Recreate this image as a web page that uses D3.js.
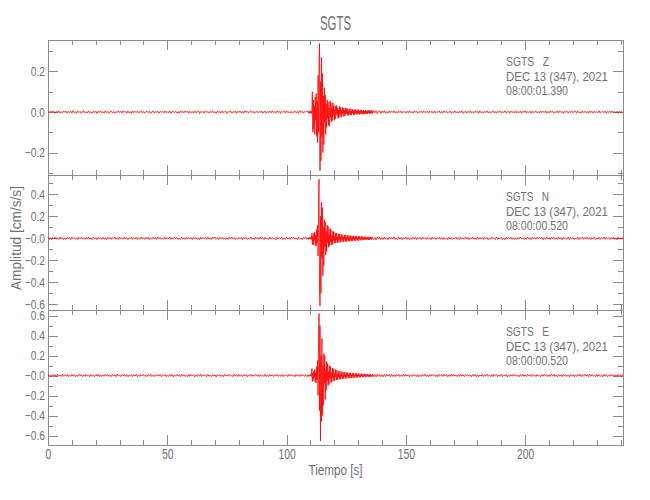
<!DOCTYPE html>
<html><head><meta charset="utf-8">
<script src="https://cdn.jsdelivr.net/npm/d3@7"></script>
<style>
body{margin:0;background:#fff}
text{font-family:"Liberation Sans",Arial,sans-serif;fill:#707070}
.axis path,.axis line{stroke:#8c8c8c;shape-rendering:crispEdges}
</style>
</head><body><svg id="c" width="650" height="500"></svg>
<script>
// ---------- DATA ----------
const title = "SGTS";
const station = "SGTS";
const components = ["Z", "N", "E"];
const dateLabel = "DEC 13 (347), 2021";
const startTimes = ["08:00:01.390", "08:00:00.520", "08:00:00.520"];
const xLabel = "Tiempo [s]";
const yLabel = "Amplitud [cm/s/s]";
const xDomain = [0, 241];
const xTickValues = [0, 50, 100, 150, 200];
const xTickLabels = ["0", "50", "100", "150", "200"];
const yDomainZ = [-0.31, 0.355];
const yDomainN = [-0.65, 0.575];
const yDomainE = [-0.695, 0.655];
const yTickValuesZ = [0.2, 0, -0.2];
const yTickLabelsZ = ["0.2", "0.0", "\u22120.2"];
const yTickValuesN = [0.4, 0.2, 0, -0.2, -0.4, -0.6];
const yTickLabelsN = ["0.4", "0.2", "\u22120.0", "\u22120.2", "\u22120.4", "\u22120.6"];
const yTickValuesE = [0.6, 0.4, 0.2, 0, -0.2, -0.4, -0.6];
const yTickLabelsE = ["0.6", "0.4", "0.2", "\u22120.0", "\u22120.2", "\u22120.4", "\u22120.6"];

// sample grids (s): pre-event from 0 every 0.5 s, event from 109 every 0.2 s, coda from 136 every 0.5 s
const preStart = 0, preStep = 0.5;
const eventStart = 109, eventStep = 0.2;
const postStart = 136, postStep = 0.5;

// Z component (cm/s/s)
const zPre = [
.003,-.004,.006,-.002,.005,.001,-.006,.004,-.003,.007,-.005,.002,-.004,.006,-.001,.005,-.006,.003,-.002,.004,
-.005,.007,-.003,.001,-.006,.005,-.002,.004,-.007,.003,.006,-.004,.002,-.005,.006,-.003,.001,-.006,.004,-.002,
.005,-.007,.003,-.001,.006,-.004,.002,-.005,.007,-.003,.004,-.006,.001,.005,-.004,.003,-.006,.002,-.003,.006,
-.002,.004,-.005,.007,-.001,.003,-.006,.005,-.004,.002,-.007,.006,-.003,.004,-.002,.005,-.005,.001,.007,-.004,
.003,-.006,.002,.005,-.003,.004,-.007,.001,.006,-.005,.003,-.002,.005,-.006,.004,-.001,.003,-.005,.006,-.003,
.002,-.004,.007,-.006,.001,.004,-.003,.005,-.005,.002,-.006,.006,-.002,.003,-.004,.007,-.001,.005,-.006,.004,
-.003,.002,-.005,.006,-.004,.001,.005,-.007,.003,-.002,.004,-.006,.006,-.001,.002,-.005,.004,-.003,.007,-.004,
.001,-.006,.005,-.002,.003,-.005,.006,-.004,.002,.004,-.007,.003,-.001,.006,-.005,.002,-.003,.005,-.006,.004,
-.002,.005,-.004,.003,-.006,.007,-.001,.004,-.005,.002,.006,-.003,.004,-.006,.001,.005,-.004,.003,-.002,.006,
-.005,.001,.004,-.006,.003,-.002,.005,-.004,.007,-.003,.002,-.005,.006,-.001,.003,-.007,.004,-.002,.005,-.004,
.006,-.003,.002,-.005,.004,-.006,.001,.005,-.004,.003,-.006,.007,-.002,.004,-.005,.003,-.001,.005];
const zEvent = [
.004,-.006,.003,-.005,.006,-.004,.005,-.007,.008,.100,
-.098,.06,-.085,.03,-.11,.075,-.04,.09,-.12,.05,
-.15,.18,-.1,.22,.338,-.289,.15,-.24,.27,-.12,
.19,-.2,.08,-.16,.12,-.05,.085,-.11,.04,-.075,
.06,-.03,.05,-.065,.02,-.07,.055,-.025,.045,-.048,
.02,-.042,.045,-.015,.035,-.04,.012,-.035,.03,-.01,
.033,-.018,.02,-.032,.01,-.027,.028,-.012,.024,-.026,
.01,-.021,.023,-.008,.019,-.022,.009,-.018,.021,-.01,
.018,-.007,.017,-.016,.006,-.017,.015,-.008,.017,-.014,
.006,-.015,.014,-.005,.013,-.014,.007,-.013,.012,-.006,
.013,-.012,.005,-.011,.012,-.006,.011,-.012,.004,-.01,
.011,-.005,.01,-.011,.004,-.009,.01,-.011,.005,-.01,
.009,-.004,.008,-.01,.005,-.008,.01,-.004,.008,-.009,
.004,-.008,.009,-.005,.008];
const zPost = [
-.007,.008,-.004,.007,-.008,.003,.006,-.007,.005,-.003,.007,-.006,.002,-.005,.006,-.004,.005,-.002,.006,-.005,
.003,-.006,.004,-.002,.005,-.006,.003,.001,-.005,.004,-.003,.006,-.004,.002,-.005,.005,-.001,.004,-.006,.003,
-.002,.005,-.004,.006,-.003,.001,.004,-.006,.005,-.002,.003,-.005,.006,-.004,.002,-.001,.005,-.006,.003,-.004,
.006,-.002,.004,-.005,.001,.005,-.006,.003,-.003,.007,-.004,.002,-.005,.004,-.002,.006,-.006,.001,.003,-.005,
.004,-.003,.006,-.005,.002,-.004,.005,-.001,.003,-.006,.006,-.003,.001,-.005,.004,-.002,.006,-.004,.003,-.006,
.002,.005,-.004,.003,-.006,.004,-.001,.005,-.005,.002,-.003,.006,-.004,.001,.004,-.006,.005,-.002,.003,-.005,
.006,-.004,.002,-.003,.005,-.006,.004,-.001,.006,-.005,.003,-.002,.004,-.006,.005,-.003,.001,.005,-.004,.002,
-.005,.006,-.003,.004,-.002,.005,-.006,.003,-.004,.006,-.001,.004,-.005,.002,-.003,.006,-.004,.005,-.002,.003,
-.006,.004,-.001,.005,-.005,.003,-.002,.006,-.004,.002,.004,-.006,.005,-.003,.001,-.005,.006,-.002,.004,-.004,
.003,-.005,.006,-.002,.004,-.006,.005,-.003,.002,-.004,.006,-.005,.001,.004,-.003,.005,-.006,.003,-.002,.005,
-.004,.006,-.003,.002,-.005,.004,-.006,.005,-.002,.003,-.004];

// N component
const nPre = [
.008,-.01,.005,-.012,.009,-.004,.011,-.007,.003,-.01,.012,-.006,.008,-.011,.004,-.009,.01,-.005,.007,-.012,
.011,-.003,.009,-.008,.006,-.011,.01,-.004,.012,-.007,.005,-.01,.008,-.006,.011,-.009,.004,-.012,.009,-.005,
.007,-.011,.012,-.004,.006,-.009,.01,-.007,.003,-.012,.011,-.005,.009,-.01,.006,-.003,.012,-.008,.005,-.011,
.01,-.006,.004,-.009,.012,-.007,.008,-.011,.005,-.004,.011,-.01,.007,-.005,.009,-.012,.006,-.008,.012,-.003,
.005,-.01,.009,-.006,.011,-.012,.004,-.008,.01,-.005,.007,-.011,.012,-.004,.008,-.009,.003,-.01,.011,-.007,
.009,-.004,.012,-.011,.006,-.008,.01,-.003,.007,-.012,.005,-.009,.011,-.006,.004,-.01,.012,-.007,.008,-.005,
.006,-.012,.01,-.005,.008,-.009,.003,-.011,.012,-.006,.009,-.004,.007,-.01,.011,-.008,.005,-.012,.01,-.003,
.012,-.007,.005,-.01,.009,-.004,.011,-.008,.006,-.012,.004,-.009,.01,-.006,.012,-.005,.008,-.011,.003,-.008,
.01,-.005,.007,-.012,.011,-.003,.009,-.01,.005,-.007,.012,-.008,.004,-.011,.01,-.006,.007,-.009,.012,-.004,
.006,-.011,.008,-.007,.004,-.01,.012,-.005,.009,-.008,.003,-.012,.011,-.006,.008,-.004,.01,-.011,.005,-.009,
.011,-.006,.007,-.01,.012,-.004,.009,-.008,.005,-.011,.01,-.007,.004,-.012,.008,-.005,.011,-.009];
const nEvent = [
.006,-.009,.004,-.007,.01,-.005,.008,-.01,.045,-.055,
.02,-.06,.05,-.02,.055,-.065,.03,-.07,.08,-.04,
.12,-.16,.3,.536,-.45,-.613,.2,-.5,.33,-.18,
.28,-.34,.1,-.25,.17,-.08,.15,-.15,.06,-.12,
.12,-.04,.11,-.08,.03,-.07,.09,-.03,.08,-.06,
.025,-.055,.065,-.02,.06,-.045,.02,-.042,.05,-.015,
.048,-.038,.015,-.04,.042,-.012,.04,-.035,.014,-.033,
.035,-.01,.033,-.03,.012,-.031,.03,-.01,.031,-.029,
.01,-.03,.027,-.009,.028,-.025,.009,-.027,.024,-.01,
.025,-.023,.008,-.024,.022,-.009,.023,-.021,.008,-.022,
.021,-.008,.022,-.019,.007,-.021,.019,-.008,.018,-.019,
.007,-.017,.018,-.007,.016,-.017,.006,-.015,.016,-.007,
.015,-.014,.006,-.015,.014,-.006,.013,-.014,.005,-.012,
.013,-.006,.012,-.012,.005];
const nPost = [
.013,-.012,.008,-.014,.011,-.007,.012,-.013,.006,-.01,.012,-.009,.005,-.012,.011,-.008,.01,-.006,.012,-.011,
.004,-.01,.011,-.007,.009,-.012,.006,-.005,.012,-.009,.008,-.011,.004,-.008,.01,-.006,.011,-.012,.007,-.004,
.009,-.011,.012,-.005,.006,-.009,.01,-.007,.004,-.012,.011,-.006,.008,-.01,.005,-.003,.012,-.008,.009,-.011,
.006,-.008,.004,-.011,.012,-.006,.009,-.01,.005,-.004,.011,-.009,.007,-.012,.01,-.005,.003,-.008,.012,-.007,
.008,-.012,.005,-.006,.011,-.009,.004,-.01,.012,-.007,.009,-.005,.006,-.011,.01,-.004,.008,-.012,.005,-.009,
.011,-.003,.007,-.01,.012,-.008,.005,-.006,.009,-.011,.004,-.012,.01,-.007,.008,-.004,.012,-.009,.006,-.01,
.005,-.011,.009,-.006,.012,-.004,.008,-.01,.003,-.009,.011,-.007,.006,-.012,.01,-.005,.007,-.008,.012,-.006,
.009,-.004,.011,-.012,.005,-.008,.01,-.006,.007,-.011,.012,-.003,.008,-.009,.004,-.01,.011,-.007,.006,-.012,
.01,-.006,.004,-.009,.012,-.011,.007,-.005,.009,-.01,.003,-.008,.011,-.012,.006,-.004,.01,-.009,.008,-.005,
.012,-.008,.006,-.011,.009,-.004,.01,-.012,.005,-.007,.011,-.009,.004,-.006,.012,-.01,.008,-.005,.007,-.011,
.009,-.006,.011,-.008,.004,-.012,.01,-.007,.006,-.009,.011];

// E component
const ePre = [
.01,-.012,.006,-.009,.011,-.005,.008,-.013,.012,-.007,.004,-.01,.013,-.008,.009,-.004,.011,-.012,.006,-.009,
.012,-.006,.008,-.011,.005,-.01,.013,-.004,.009,-.012,.007,-.008,.011,-.005,.006,-.013,.01,-.007,.004,-.011,
.009,-.005,.013,-.01,.007,-.012,.005,-.008,.011,-.006,.012,-.009,.004,-.011,.01,-.007,.008,-.012,.013,-.005,
.006,-.011,.01,-.004,.012,-.008,.009,-.013,.005,-.007,.011,-.01,.008,-.005,.013,-.011,.006,-.009,.01,-.004,
.011,-.008,.005,-.012,.009,-.006,.013,-.01,.004,-.011,.008,-.007,.012,-.005,.009,-.012,.007,-.004,.011,-.01,
.005,-.009,.012,-.007,.01,-.013,.006,-.008,.011,-.004,.009,-.012,.013,-.006,.007,-.01,.004,-.011,.012,-.008,
.01,-.005,.008,-.012,.004,-.009,.011,-.007,.013,-.01,.006,-.004,.009,-.012,.012,-.008,.005,-.011,.01,-.006,
.007,-.013,.011,-.006,.009,-.01,.005,-.012,.012,-.004,.008,-.009,.01,-.007,.004,-.011,.013,-.005,.006,-.01,
.012,-.008,.006,-.011,.01,-.005,.009,-.013,.007,-.006,.011,-.01,.005,-.008,.012,-.004,.008,-.012,.01,-.007,
.004,-.01,.013,-.009,.006,-.012,.011,-.005,.008,-.011,.01,-.007,.012,-.006,.005,-.009,.011,-.013,.007,-.004,
.009,-.011,.012,-.006,.01,-.008,.005,-.012,.011,-.007,.008,-.01,.013,-.005,.006,-.009,.01,-.012];
const eEvent = [
.006,-.008,.004,-.007,.009,-.005,.007,-.009,.07,-.06,
.025,-.05,.045,-.02,.06,-.065,.03,-.075,.09,-.04,
.15,-.2,.4,.62,-.35,.5,-.655,.2,-.46,.37,
-.4,.1,-.3,.22,-.08,.2,-.24,.06,-.15,.14,
-.05,.12,-.1,.04,-.09,.1,-.03,.09,-.07,.03,
-.065,.075,-.02,.068,-.055,.02,-.05,.06,-.015,.055,
-.045,.015,-.043,.047,-.012,.044,-.038,.012,-.037,.038,
-.01,.036,-.034,.01,-.032,.033,-.009,.032,-.03,.009,
-.029,.03,-.008,.029,-.027,.008,-.026,.027,-.007,.026,
-.025,.007,-.024,.024,-.007,.024,-.022,.006,-.022,.022,
-.006,.022,-.02,.006,-.02,.02,-.005,.02,-.018,.006,
-.018,.018,-.005,.018,-.016,.005,-.016,.016,-.005,.016,
-.015,.005,-.014,.015,-.004,.014,-.013,.005,-.013,.013,
-.004,.013,-.012,.004,-.011];
const ePost = [
.013,-.011,.009,-.014,.012,-.008,.01,-.013,.007,-.012,.011,-.009,.013,-.006,.008,-.011,.012,-.01,.006,-.012,
.01,-.007,.012,-.011,.005,-.009,.013,-.008,.011,-.006,.009,-.012,.007,-.01,.012,-.005,.008,-.011,.01,-.013,
.006,-.01,.011,-.007,.013,-.009,.005,-.012,.01,-.008,.012,-.004,.009,-.011,.007,-.013,.011,-.006,.008,-.01,
.012,-.005,.009,-.012,.006,-.01,.011,-.008,.013,-.007,.004,-.011,.01,-.009,.012,-.006,.007,-.012,.009,-.004,
.011,-.009,.006,-.013,.01,-.005,.012,-.01,.008,-.012,.005,-.007,.011,-.011,.009,-.006,.013,-.008,.004,-.01,
.008,-.012,.013,-.006,.009,-.011,.005,-.008,.012,-.01,.007,-.004,.011,-.013,.006,-.009,.01,-.007,.012,-.005,
.009,-.01,.004,-.012,.011,-.007,.013,-.009,.006,-.011,.01,-.005,.008,-.012,.012,-.006,.005,-.01,.011,-.008,
.005,-.013,.01,-.008,.012,-.004,.009,-.011,.007,-.01,.013,-.006,.011,-.009,.004,-.012,.01,-.007,.008,-.011,
.012,-.006,.008,-.01,.005,-.013,.011,-.007,.009,-.012,.006,-.009,.012,-.005,.01,-.011,.007,-.008,.013,-.004,
.007,-.011,.012,-.009,.01,-.006,.005,-.012,.011,-.008,.009,-.01,.004,-.013,.012,-.007,.008,-.011,.006,-.009,
.011,-.005,.009,-.012,.007,-.01,.012,-.006,.008,-.011,.01];

// ---------- CHART ----------
const W = 650, H = 500;
const left = 48, right = 623;
const panelTops = [40, 175, 310];
const panelH = 135;

const svg = d3.select("#c");
svg.append("rect").attr("width", W).attr("height", H).attr("fill", "#fff");

const x = d3.scaleLinear().domain(xDomain).range([left, right]);

function buildSeries(pre, ev, post) {
  const out = [];
  pre.forEach((v, i) => out.push({t: preStart + i * preStep, v}));
  ev.forEach((v, i) => out.push({t: eventStart + i * eventStep, v}));
  post.forEach((v, i) => out.push({t: postStart + i * postStep, v}));
  return out;
}

// squeeze text horizontally (narrow plotter font look)
function squeeze(sel, f, fixed) {
  sel.each(function () {
    const w = this.getComputedTextLength();
    if (w > 0) d3.select(this).attr("textLength", fixed || w * f).attr("lengthAdjust", "spacingAndGlyphs");
  });
}

const panels = [
  {comp: components[0], time: startTimes[0], dom: yDomainZ, tv: yTickValuesZ, tl: yTickLabelsZ, data: buildSeries(zPre, zEvent, zPost)},
  {comp: components[1], time: startTimes[1], dom: yDomainN, tv: yTickValuesN, tl: yTickLabelsN, data: buildSeries(nPre, nEvent, nPost)},
  {comp: components[2], time: startTimes[2], dom: yDomainE, tv: yTickValuesE, tl: yTickLabelsE, data: buildSeries(ePre, eEvent, ePost)}
];

const xMinor = d3.range(0, 241, 10).filter(v => !xTickValues.includes(v));

panels.forEach((p, k) => {
  const top = panelTops[k], bot = top + panelH;
  const y = d3.scaleLinear().domain(p.dom).range([bot, top]);
  const g = svg.append("g");

  const yMinor = d3.range(Math.ceil(p.dom[0] * 10), Math.floor(p.dom[1] * 10) + 1)
      .map(v => v / 10).filter(v => !p.tv.some(t => Math.abs(t - v) < 1e-9));

  const minorAxes = [
    [d3.axisBottom(x).tickValues(xMinor), `translate(0,${bot})`],
    [d3.axisTop(x).tickValues(xMinor), `translate(0,${top})`],
    [d3.axisLeft(y).tickValues(yMinor), `translate(${left},0)`],
    [d3.axisRight(y).tickValues(yMinor), `translate(${right},0)`]
  ];
  minorAxes.forEach(([ax, tr]) => {
    const a = g.append("g").attr("class", "axis").attr("transform", tr)
      .call(ax.tickSize(-5).tickSizeOuter(0).tickFormat(""));
    a.select(".domain").remove();
  });

  const bAx = g.append("g").attr("class", "axis").attr("transform", `translate(0,${bot})`)
    .call(d3.axisBottom(x).tickValues(xTickValues).tickSize(-10).tickSizeOuter(0).tickPadding(4)
      .tickFormat((d, i) => k === 2 ? xTickLabels[i] : ""));
  g.append("g").attr("class", "axis").attr("transform", `translate(0,${top})`)
    .call(d3.axisTop(x).tickValues(xTickValues).tickSize(-10).tickSizeOuter(0).tickFormat(""));
  const lAx = g.append("g").attr("class", "axis").attr("transform", `translate(${left},0)`)
    .call(d3.axisLeft(y).tickValues(p.tv).tickSize(-10).tickSizeOuter(0).tickPadding(3)
      .tickFormat((d, i) => p.tl[i]));
  g.append("g").attr("class", "axis").attr("transform", `translate(${right},0)`)
    .call(d3.axisRight(y).tickValues(p.tv).tickSize(-10).tickSizeOuter(0).tickFormat(""));

  g.selectAll(".axis text").attr("fill", null).attr("font-family", null);
  lAx.selectAll("text").style("font-size", "12.5px");
  bAx.selectAll("text").style("font-size", "14px");
  squeeze(lAx.selectAll("text"), 0.82);
  squeeze(bAx.selectAll("text"), 0.74);

  const line = d3.line().x(d => x(d.t)).y(d => y(d.v));
  g.append("path").datum(p.data).attr("d", line)
    .attr("fill", "none").attr("stroke", "#ff0000").attr("stroke-width", 0.8);

  const ann = g.append("g").style("font-size", "13px");
  squeeze(ann.append("text").attr("x", 506).attr("y", top + 26)
    .style("white-space", "pre").text(station + "   " + p.comp), 1, 43);
  squeeze(ann.append("text").attr("x", 506).attr("y", top + 40.5).text(dateLabel), 1, 102);
  squeeze(ann.append("text").attr("x", 506).attr("y", top + 55).text(p.time), 1, 62);
});

squeeze(svg.append("text").attr("x", (left + right) / 2).attr("y", 30)
  .attr("text-anchor", "middle").style("font-size", "21px").text(title), 1, 31);
squeeze(svg.append("text").attr("x", (left + right) / 2).attr("y", 475)
  .attr("text-anchor", "middle").style("font-size", "14px").text(xLabel), 1, 54);
squeeze(svg.append("text").attr("transform", "translate(21,238) rotate(-90)")
  .attr("text-anchor", "middle").style("font-size", "14px").text(yLabel), 1, 104);
</script>
</body></html>
